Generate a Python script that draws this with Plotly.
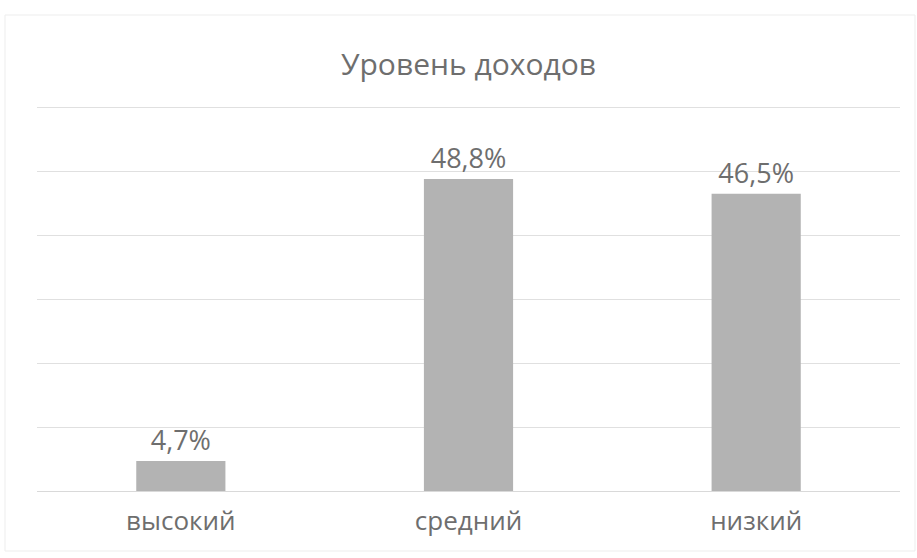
import plotly.graph_objects as go

categories = ["высокий", "средний", "низкий"]
values = [4.7, 48.8, 46.5]
title_text = "Уровень доходов"

FONT = "Open Sans, Liberation Sans, sans-serif"
TEXT_COLOR = "#6e6e6e"

fig = go.Figure(
    go.Bar(
        x=categories,
        y=values,
        marker=dict(color="#b3b3b3", line=dict(width=0)),
        texttemplate="%{y:.1f}%",
        textposition="outside",
        cliponaxis=False,
        textfont=dict(size=27, color=TEXT_COLOR, family=FONT),
    )
)

fig.update_layout(
    width=917,
    height=558,
    margin=dict(l=37, r=17, t=101, b=67),
    paper_bgcolor="white",
    plot_bgcolor="white",
    separators=", ",
    bargap=0.69,
    showlegend=False,
    title=dict(
        text=title_text,
        x=0.5,
        xref="paper",
        y=1 - 64 / 558,
        yanchor="middle",
        font=dict(size=30, color=TEXT_COLOR, family=FONT),
    ),
    xaxis=dict(
        showgrid=False,
        showline=False,
        ticks="",
        tickfont=dict(size=26, color=TEXT_COLOR, family=FONT),
        ticklabelstandoff=12,
    ),
    yaxis=dict(
        range=[0, 61],
        tickvals=[0, 10, 20, 30, 40, 50, 60],
        showgrid=True,
        gridcolor="#e0e0e0",
        gridwidth=1,
        showticklabels=False,
        zeroline=True,
        zerolinecolor="#d9d9d9",
        zerolinewidth=1,
        ticks="",
    ),
    shapes=[
        dict(
            type="rect",
            xref="paper", yref="paper",
            x0=-32 / 863, x1=1 + 15 / 863,
            y0=-60 / 390, y1=1 + 86 / 390,
            line=dict(color="#ededed", width=1),
            fillcolor="rgba(0,0,0,0)",
            layer="below",
        )
    ],
)

fig.write_html("out.html")
